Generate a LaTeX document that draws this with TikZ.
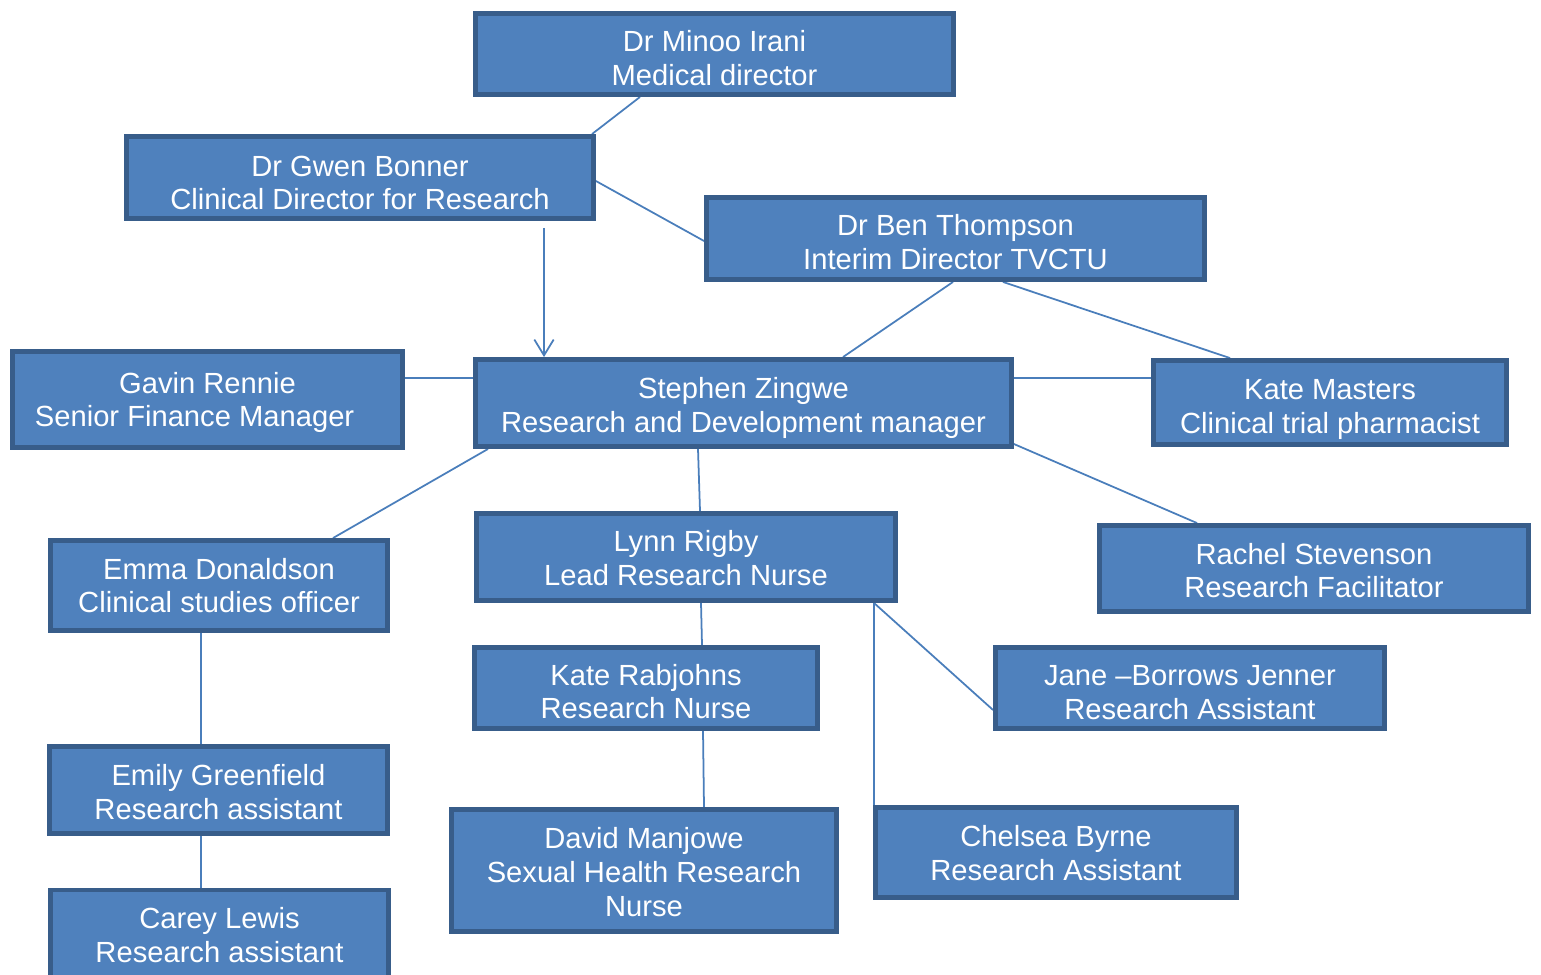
\documentclass[tikz,border=0pt]{standalone}
\usepackage{fontspec}
\setmainfont{Liberation Sans}
\usetikzlibrary{arrows.meta}
\definecolor{boxfill}{HTML}{4F81BD}
\definecolor{boxline}{HTML}{385D8A}
\definecolor{conn}{HTML}{4A7EBB}
\pgfdeclarelayer{bg}
\pgfsetlayers{bg,main}
\begin{document}
\begin{tikzpicture}[x=0.02cm,y=-0.02cm,
  orgbox/.style={draw=boxline, fill=boxfill, line width=2.8pt, text=white,
    align=center, inner sep=0pt, text depth=0pt, font=\fontsize{16.6}{19.3}\selectfont},
  link/.style={draw=conn, line width=1pt},
  barb/.style={-{Straight Barb[length=9pt,width=11pt]}}]
\clip (0,0) rectangle (1541,974);

\node[orgbox, text height=35.7pt, minimum width=9.56cm, minimum height=1.62cm] (min) at (714.5,54) {Dr Minoo Irani\\Medical director};
\node[orgbox, text height=36.9pt, minimum width=9.34cm, minimum height=1.64cm] (gwen) at (360,177.5) {Dr Gwen Bonner\\Clinical Director for Research};
\node[orgbox, text height=35.7pt, minimum width=9.96cm, minimum height=1.64cm] (ben) at (955.5,238.5) {Dr Ben Thompson\\Interim Director TVCTU};
\node[orgbox, text height=31.2pt, minimum width=7.80cm, minimum height=1.92cm] (gavin) at (207.5,399.5) {Gavin Rennie\\Senior Finance Manager\hspace*{14.7pt}};
\node[orgbox, text height=33.5pt, minimum width=10.72cm, minimum height=1.74cm] (stephen) at (743.5,403) {Stephen Zingwe\\Research and Development manager};
\node[orgbox, text height=35.2pt, minimum width=7.06cm, minimum height=1.68cm] (katem) at (1330,402.5) {Kate Masters\\Clinical trial pharmacist};
\node[orgbox, text height=31.2pt, minimum width=6.74cm, minimum height=1.80cm] (emma) at (219,585.5) {Emma Donaldson\\Clinical studies officer};
\node[orgbox, text height=32.3pt, minimum width=8.38cm, minimum height=1.74cm] (lynn) at (686,557) {Lynn Rigby\\Lead Research Nurse};
\node[orgbox, text height=33.5pt, minimum width=8.58cm, minimum height=1.72cm] (rachel) at (1314,568.5) {Rachel Stevenson\\Research Facilitator};
\node[orgbox, text height=35.2pt, minimum width=6.86cm, minimum height=1.62cm] (kater) at (646,688) {Kate Rabjohns\\Research Nurse};
\node[orgbox, text height=35.7pt, minimum width=7.78cm, minimum height=1.62cm] (jane) at (1190,688) {Jane –Borrows Jenner\\Research Assistant};
\node[orgbox, text height=33.5pt, minimum width=6.76cm, minimum height=1.74cm] (emily) at (218.5,790) {Emily Greenfield\\Research assistant};
\node[orgbox, text height=52.2pt, minimum width=7.70cm, minimum height=2.44cm] (david) at (644,870.5) {David Manjowe\\Sexual Health Research\\Nurse};
\node[orgbox, text height=32.3pt, minimum width=7.22cm, minimum height=1.80cm] (chelsea) at (1056,852.5) {Chelsea Byrne\\Research Assistant};
\node[orgbox, text height=32.3pt, minimum width=6.76cm, minimum height=1.76cm] (carey) at (219.5,934) {Carey Lewis\\Research assistant};

\begin{pgfonlayer}{bg}
\draw[link] (640,0 |- min.south) -- (592,0 |- gwen.north);
\draw[link] (gwen.east |- 0,181) -- (ben.west |- 0,241);
\draw[link, barb, shorten <=4pt] (544,0 |- gwen.south) -- (544,0 |- stephen.north);
\draw[link] (953,0 |- ben.south) -- (843,0 |- stephen.north);
\draw[link] (1003,0 |- ben.south) -- (1230,0 |- katem.north);
\draw[link] (gavin.east |- 0,378) -- (stephen.west |- 0,378);
\draw[link] (stephen.east |- 0,378) -- (katem.west |- 0,378);
\draw[link] (488,0 |- stephen.south) -- (333,0 |- emma.north);
\draw[link] (698,0 |- stephen.south) -- (700,0 |- lynn.north);
\draw[link] (701,0 |- lynn.south) -- (702,0 |- kater.north);
\draw[link] (703,0 |- kater.south) -- (704,0 |- david.north);
\draw[link] (874,0 |- lynn.south) -- (jane.west |- 0,710);
\draw[link] (874,0 |- lynn.south) -- (874,0 |- chelsea.north);
\draw[link] (stephen.east |- 0,444) -- (1197,0 |- rachel.north);
\draw[link] (201,0 |- emma.south) -- (201,0 |- emily.north);
\draw[link] (201,0 |- emily.south) -- (201,0 |- carey.north);
\end{pgfonlayer}
\end{tikzpicture}
\end{document}
